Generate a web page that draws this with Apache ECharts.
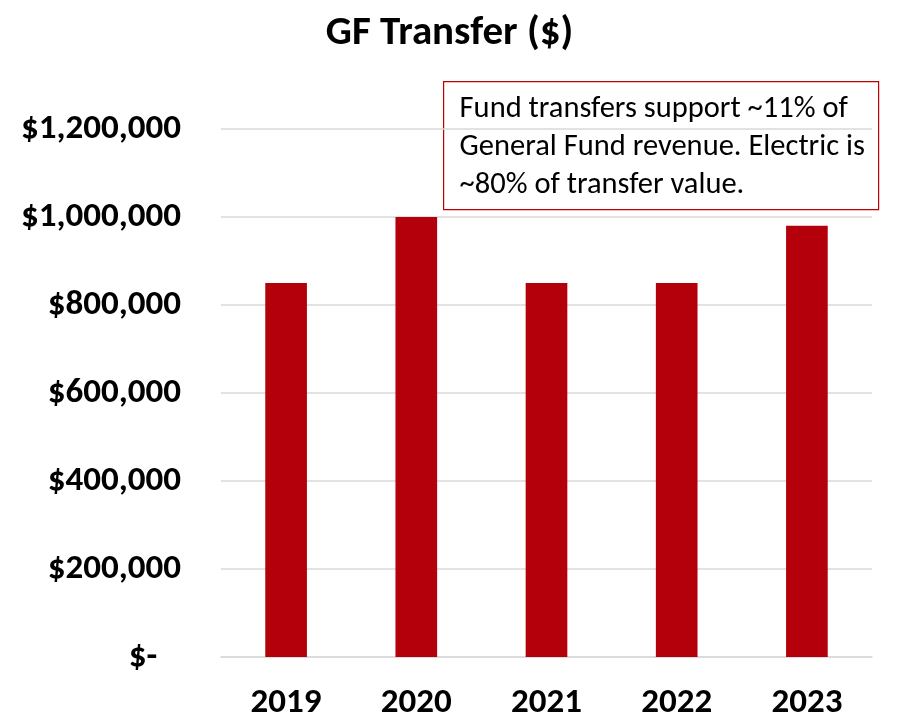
<!DOCTYPE html>
<html>
<head>
<meta charset="utf-8">
<script src="https://cdn.jsdelivr.net/npm/echarts@6/dist/echarts.min.js"></script>
<style>
  html, body { margin: 0; padding: 0; background: #fff; }
  #chart { width: 899px; height: 718px; }
</style>
</head>
<body>
<div id="chart"></div>
<script>
// === DATA ===
const years = ['2019', '2020', '2021', '2022', '2023'];
const transfers = [850000, 1000000, 850000, 850000, 980000];
const noteLines = [
    'Fund transfers support ~11% of',
    'General Fund revenue. Electric is',
    '~80% of transfer value.'
];

const FONT = 'Carlito, "Liberation Sans Narrow", "DejaVu Sans Condensed", "Open Sans", sans-serif';
const BAR_RED = '#b3000a';

function moneyLabel(v) {
    if (v === 0) return '$-   ';
    return '$' + v.toLocaleString('en-US');
}

const chart = echarts.init(document.getElementById('chart'));

chart.setOption({
    backgroundColor: '#ffffff',
    animation: false,
    title: {
        text: 'GF Transfer ($)',
        left: 'center',
        top: 8,
        textStyle: { fontFamily: FONT, fontSize: 41, fontWeight: 'bold', color: '#000' }
    },
    // keep the plot box fixed; labels may sit near the edges
    grid: { left: 221, right: 27, top: 129, bottom: 61, outerBoundsMode: 'none' },
    xAxis: {
        type: 'category',
        data: years,
        axisTick: { show: false },
        axisLine: { lineStyle: { color: '#d9d9d9', width: 1.5 } },
        axisLabel: {
            color: '#000',
            fontFamily: FONT,
            fontSize: 35,
            fontWeight: 'bold',
            margin: 29
        }
    },
    yAxis: {
        type: 'value',
        min: 0,
        max: 1200000,
        interval: 200000,
        axisLine: { show: false },
        axisTick: { show: false },
        splitLine: { lineStyle: { color: '#d9d9d9', width: 1.5 } },
        axisLabel: {
            color: '#000',
            fontFamily: FONT,
            fontSize: 35,
            fontWeight: 'bold',
            margin: 40,
            formatter: moneyLabel
        }
    },
    series: [{
        type: 'bar',
        data: transfers,
        barWidth: '32%',
        itemStyle: { color: BAR_RED }
    }],
    graphic: [{
        type: 'group',
        left: 443,
        top: 81,
        children: [{
            type: 'rect',
            shape: { x: 0, y: 0, width: 435, height: 128 },
            style: { fill: '#ffffff', stroke: '#c00000', lineWidth: 1.2 }
        }, {
            type: 'text',
            x: 16,
            y: 9,
            style: {
                text: noteLines.join('\n'),
                font: '30.5px ' + FONT,
                fill: '#000',
                lineHeight: 38
            }
        }]
    }]
});
</script>
</body>
</html>
